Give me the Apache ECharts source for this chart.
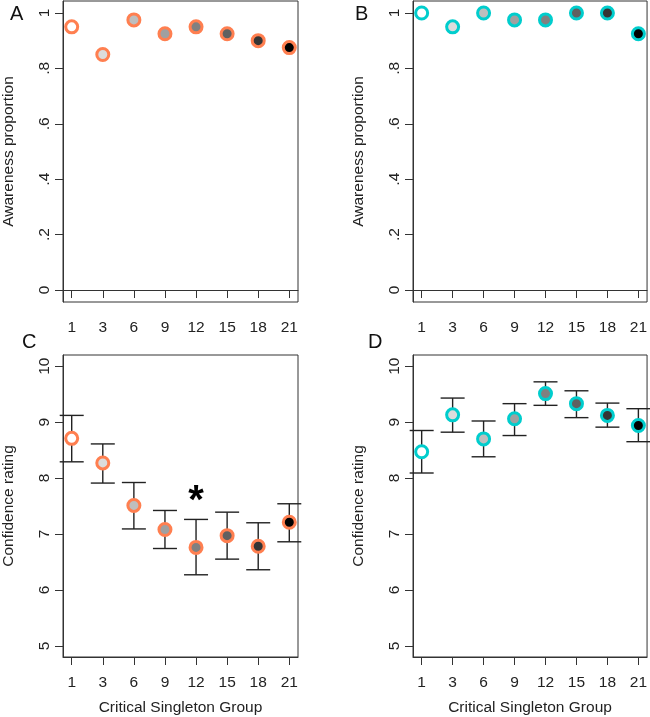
<!DOCTYPE html>
<html>
<head>
<meta charset="utf-8">
<script src="https://cdn.jsdelivr.net/npm/echarts@6/dist/echarts.min.js"></script>
<style>
  html, body { margin: 0; padding: 0; background: #fff; }
  #chart { width: 650px; height: 717px; }
</style>
</head>
<body>
<div id="chart"></div>
<script>
// critical singleton groups (x categories)
const groups = ['1', '3', '6', '9', '12', '15', '18', '21'];
const fills = ['#ffffff', '#dcdcdc', '#bebebe', '#a0a0a0', '#808080', '#606060', '#353535', '#000000'];

// A / B: awareness proportion
const awareA = [0.95, 0.85, 0.975, 0.925, 0.95, 0.925, 0.90, 0.875];
const awareB = [1.0, 0.95, 1.0, 0.975, 0.975, 1.0, 1.0, 0.925];

// C / D: confidence rating, with error bar bounds
const confC = [8.71, 8.27, 7.51, 7.08, 6.76, 6.97, 6.78, 7.21];
const confCLow = [8.29, 7.91, 7.09, 6.74, 6.27, 6.55, 6.36, 6.86];
const confCHigh = [9.12, 8.61, 7.92, 7.42, 7.26, 7.39, 7.20, 7.54];
const confD = [8.47, 9.13, 8.70, 9.06, 9.51, 9.33, 9.12, 8.94];
const confDLow = [8.09, 8.82, 8.38, 8.76, 9.30, 9.08, 8.91, 8.65];
const confDHigh = [8.85, 9.43, 9.02, 9.33, 9.72, 9.56, 9.34, 9.24];

const awareTicks = [0, 0.2, 0.4, 0.6, 0.8, 1];
const confTicks = [5, 6, 7, 8, 9, 10];

const ORANGE = '#ff7f50';
const CYAN = '#00cdcd';
const FONT = 'Liberation Sans';
const INK = '#222';

var chartEl = document.getElementById('chart');
var myChart = echarts.init(chartEl);

function xAxisFor(gridIndex, withName) {
    return {
        gridIndex: gridIndex,
        type: 'value',
        min: 0.72,
        max: 8.28,
        axisLine: { show: true, lineStyle: { color: '#333' } },
        axisTick: { show: true, length: 8, customValues: [1, 2, 3, 4, 5, 6, 7, 8], lineStyle: { color: '#333' } },
        axisLabel: {
            customValues: [1, 2, 3, 4, 5, 6, 7, 8],
            formatter: v => groups[Math.round(v) - 1],
            fontFamily: FONT, fontSize: 15.5, color: INK, margin: 18
        },
        splitLine: { show: false },
        name: withName ? 'Critical Singleton Group' : '',
        nameLocation: 'middle',
        nameGap: 43,
        nameTextStyle: { fontFamily: FONT, fontSize: 15.5, color: INK }
    };
}

function yAxisFor(gridIndex, min, max, ticks, name, fmt) {
    return {
        gridIndex: gridIndex,
        type: 'value',
        min: min,
        max: max,
        axisLine: { show: true, lineStyle: { color: '#333' } },
        axisTick: { show: true, length: 8, customValues: ticks, lineStyle: { color: '#333' } },
        axisLabel: {
            customValues: ticks,
            rotate: 90,
            formatter: fmt,
            fontFamily: FONT, fontSize: 15.5, color: INK, margin: 10
        },
        splitLine: { show: false },
        name: name,
        nameLocation: 'middle',
        nameGap: 46,
        nameTextStyle: { fontFamily: FONT, fontSize: 15.5, color: INK }
    };
}

const awareFmt = v => {
    if (v === 0) return '0';
    if (v === 1) return '1';
    return '.' + Math.round(v * 10);
};

function pointSeries(idx, values, border) {
    return {
        type: 'scatter',
        xAxisIndex: idx,
        yAxisIndex: idx,
        symbol: 'circle',
        symbolSize: 12,
        z: 5,
        data: values.map((v, i) => ({
            value: [i + 1, v],
            itemStyle: { color: fills[i], borderColor: border, borderWidth: 3, opacity: 1 }
        }))
    };
}

function errorSeries(idx, lows, highs) {
    return {
        type: 'custom',
        xAxisIndex: idx,
        yAxisIndex: idx,
        z: 3,
        data: lows.map((lo, i) => [i + 1, lo, highs[i]]),
        renderItem: function (params, api) {
            const x = api.value(0);
            const lo = api.coord([x, api.value(1)]);
            const hi = api.coord([x, api.value(2)]);
            const hw = 12;
            const style = { stroke: INK, lineWidth: 1.4 };
            return {
                type: 'group',
                children: [
                    { type: 'line', shape: { x1: lo[0], y1: lo[1], x2: hi[0], y2: hi[1] }, style: style },
                    { type: 'line', shape: { x1: lo[0] - hw, y1: lo[1], x2: lo[0] + hw, y2: lo[1] }, style: style },
                    { type: 'line', shape: { x1: hi[0] - hw, y1: hi[1], x2: hi[0] + hw, y2: hi[1] }, style: style }
                ]
            };
        }
    };
}

const letterStyle = { fontFamily: FONT, fontSize: 20, fontWeight: 'normal', color: '#111' };

var option = {
    animation: false,
    backgroundColor: '#fff',
    title: [
        { text: 'A', left: 5, top: -1, textStyle: letterStyle },
        { text: 'B', left: 350, top: -1, textStyle: letterStyle },
        { text: 'C', left: 17, top: 327, textStyle: letterStyle },
        { text: 'D', left: 363, top: 327, textStyle: letterStyle }
    ],
    grid: [
        { left: 61, top: 1, width: 237, height: 301, show: true, borderColor: '#333', borderWidth: 1 },
        { left: 413, top: 1, width: 236, height: 301, show: true, borderColor: '#333', borderWidth: 1 },
        { left: 61, top: 355, width: 237, height: 302, show: true, borderColor: '#333', borderWidth: 1 },
        { left: 413, top: 355, width: 236, height: 302, show: true, borderColor: '#333', borderWidth: 1 }
    ],
    xAxis: [
        xAxisFor(0, false),
        xAxisFor(1, false),
        xAxisFor(2, true),
        xAxisFor(3, true)
    ],
    yAxis: [
        yAxisFor(0, -0.0432, 1.0432, awareTicks, 'Awareness proportion', awareFmt),
        yAxisFor(1, -0.0432, 1.0432, awareTicks, 'Awareness proportion', awareFmt),
        yAxisFor(2, 4.8, 10.2, confTicks, 'Confidence rating', v => String(v)),
        yAxisFor(3, 4.8, 10.2, confTicks, 'Confidence rating', v => String(v))
    ],
    series: [
        pointSeries(0, awareA, ORANGE),
        pointSeries(1, awareB, CYAN),
        errorSeries(2, confCLow, confCHigh),
        pointSeries(2, confC, ORANGE),
        errorSeries(3, confDLow, confDHigh),
        pointSeries(3, confD, CYAN),
        {
            // significance marker over group 12 in panel C
            type: 'scatter',
            xAxisIndex: 2,
            yAxisIndex: 2,
            symbolSize: 1,
            itemStyle: { color: 'rgba(0,0,0,0)', opacity: 1 },
            data: [[5, 7.73]],
            label: {
                show: true,
                position: 'inside',
                formatter: '*',
                fontFamily: FONT,
                fontSize: 40,
                fontWeight: 'bold',
                color: '#000',
                offset: [0, 9]
            }
        }
    ]
};

option && myChart.setOption(option);
</script>
</body>
</html>
